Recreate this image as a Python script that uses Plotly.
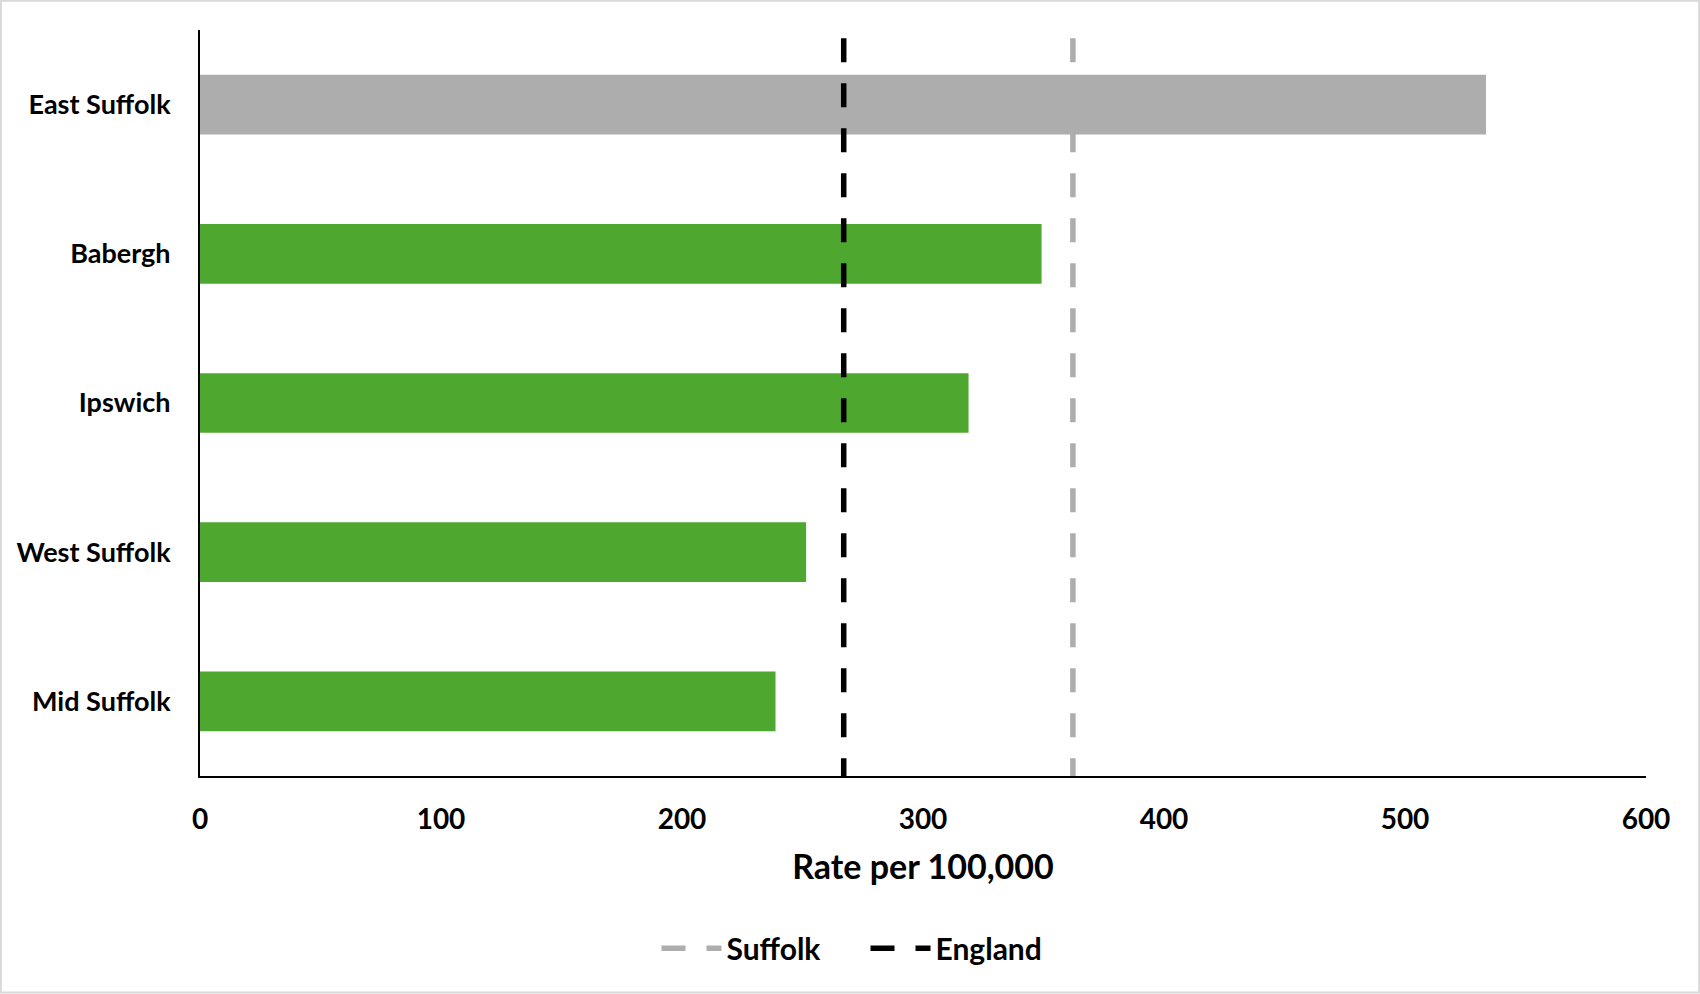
import plotly.graph_objects as go

categories = ["East Suffolk", "Babergh", "Ipswich", "West Suffolk", "Mid Suffolk"]
rates = [533.6, 349.2, 318.9, 251.5, 238.8]
bar_colors = ["#ADADAD", "#4EA72E", "#4EA72E", "#4EA72E", "#4EA72E"]
suffolk_rate = 362.2
england_rate = 267.1
x_ticks = [0, 100, 200, 300, 400, 500, 600]

W, H = 1700, 994
L, R, T, B = 200, 54, 30, 218
pw, ph = W - L - R, H - T - B

FONT = "Lato"

fig = go.Figure()
fig.add_trace(go.Bar(
    y=categories, x=rates, orientation="h",
    marker=dict(color=bar_colors, line=dict(width=0)),
    width=0.4, showlegend=False, hoverinfo="x+y",
))
fig.add_trace(go.Scatter(
    x=[suffolk_rate, suffolk_rate], y=[0.989, 0], yaxis="y2", mode="lines",
    line=dict(color="#ADADAD", width=5.5, dash="24px,21px"), name="Suffolk",
))
fig.add_trace(go.Scatter(
    x=[england_rate, england_rate], y=[0.989, 0], yaxis="y2", mode="lines",
    line=dict(color="#000000", width=5.5, dash="24px,21px"), name="England",
))

fig.update_layout(
    width=W, height=H,
    margin=dict(l=L, r=R, t=T, b=B, autoexpand=False),
    paper_bgcolor="white", plot_bgcolor="white",
    font=dict(family=FONT, color="#000000"),
    bargap=0.6,
    xaxis=dict(
        range=[0, 600], tickvals=x_ticks, ticktext=[str(v) for v in x_ticks],
        showgrid=False, zeroline=False, showline=True, linecolor="#000000", linewidth=2,
        ticks="", ticklabelstandoff=17,
        tickfont=dict(family=FONT, size=28, color="#000000", weight="bold"),
        title=dict(text="Rate per 100,000", standoff=22,
                   font=dict(family=FONT, size=34, color="#000000", weight="bold")),
    ),
    yaxis=dict(
        categoryorder="array", categoryarray=categories, autorange="reversed",
        showgrid=False, zeroline=False, showline=True, linecolor="#000000", linewidth=2,
        ticks="", ticklabelstandoff=22,
        tickfont=dict(family=FONT, size=27, color="#000000", weight="bold"),
    ),
    yaxis2=dict(range=[0, 1], overlaying="y", visible=False, fixedrange=True),
    legend=dict(
        orientation="h", x=0.3157, xanchor="left", y=-0.231, yanchor="middle",
        font=dict(family=FONT, size=30, color="#000000", weight="bold"),
        itemwidth=60, entrywidth=134, traceorder="normal",
    ),
    shapes=[dict(
        type="rect", xref="paper", yref="paper",
        x0=-L / pw + 0.0006, x1=1 + R / pw - 0.0006,
        y0=-B / ph + 0.002, y1=1 + T / ph - 0.001,
        line=dict(color="#D9D9D9", width=2), fillcolor="rgba(0,0,0,0)", layer="below",
    )],
)

fig.write_html("out.html", config={"displayModeBar": False},
               post_script="document.body.style.margin='0';")
